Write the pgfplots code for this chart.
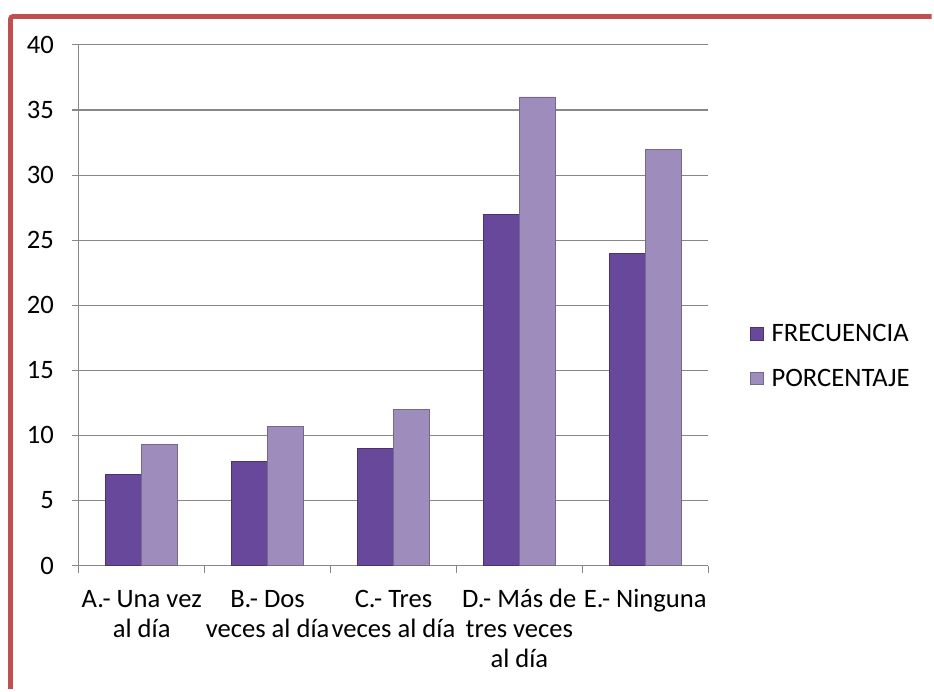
\documentclass[border=0pt]{standalone}
\usepackage{pgfplots}
\pgfplotsset{compat=1.18}
\usepackage{fontspec}
\setmainfont{Carlito}
\definecolor{frameRed}{HTML}{C0504D}
\definecolor{darkP}{HTML}{67489A}
\definecolor{darkPedge}{HTML}{4A336E}
\definecolor{lightP}{HTML}{9E8CBC}
\definecolor{lightPedge}{HTML}{75688F}
\definecolor{gridG}{HTML}{878787}
\begin{document}
\begin{tikzpicture}
\path (0pt,0pt) rectangle (700.5pt,518.25pt);
\draw[frameRed, line width=3.6pt, rounded corners=2pt] (7.9pt,0pt) -- (7.9pt,505.9pt) -- (700.5pt,505.9pt);
\begin{axis}[
  at={(59.25pt,93pt)}, anchor=south west,
  scale only axis, width=473.25pt, height=391.5pt,
  font=\fontsize{20}{22.5}\selectfont,
  /pgf/number format/assume math mode=true,
  xmin=-0.5, xmax=4.5, ymin=0, ymax=40,
  ytick={0,5,...,40},
  xtick={0,1,2,3,4},
  xticklabels={{\strut A.- Una vez\\al día},{\strut B.- Dos\\veces al día},{\strut C.- Tres\\veces al día},{\strut D.- Más de\\tres veces\\al día},{\strut E.- Ninguna}},
  xticklabel style={align=center, yshift=-7pt},
  yticklabel style={xshift=-10pt},
  major x tick style={draw=none},
  minor xtick={-0.5,0.5,1.5,2.5,3.5,4.5},
  minor tick length=5.25pt,
  major tick length=5.25pt,
  tick align=outside,
  tick style={gridG, line width=0.8pt},
  axis x line*=bottom, axis y line*=left,
  axis line style={gridG, line width=0.8pt, -},
  ymajorgrids, grid style={gridG, line width=0.8pt},
  ybar, bar width=0.285,
  legend style={at={(1.0666,0.402)}, anchor=west, draw=none, fill=none, inner sep=0pt,
    row sep=15pt, font=\fontsize{20}{22.5}\selectfont,
    /tikz/every odd column/.append style={column sep=4pt}},
  legend cell align=left,
  legend image code/.code={\draw[#1, line width=0.5pt] (0pt,-4.5pt) rectangle (9.5pt,5pt);},
]
\addplot[bar shift=-0.1425, fill=darkP, draw=darkPedge, line width=0.6pt] coordinates {(0,7) (1,8) (2,9) (3,27) (4,24)};
\addplot[bar shift=0.1425, fill=lightP, draw=lightPedge, line width=0.6pt] coordinates {(0,9.33) (1,10.67) (2,12) (3,36) (4,32)};
\legend{FRECUENCIA, PORCENTAJE}
\end{axis}
\end{tikzpicture}
\end{document}
